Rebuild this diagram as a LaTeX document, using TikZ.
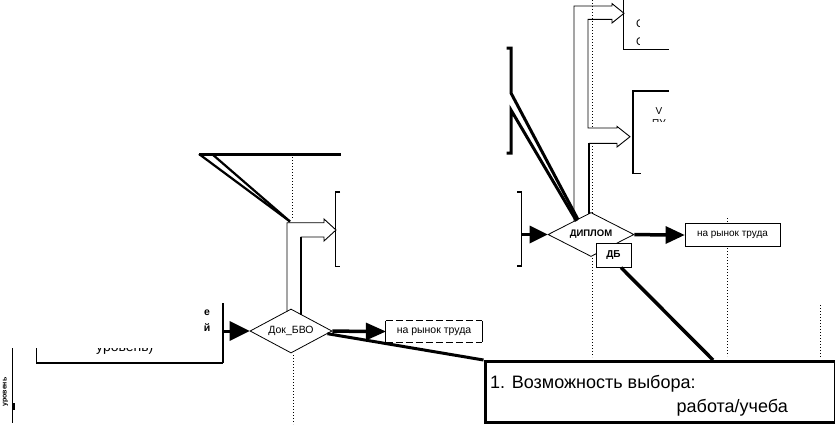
\documentclass[tikz,border=0pt]{standalone}
\usepackage{fontspec}
\setmainfont{Liberation Sans}
\usetikzlibrary{shapes.geometric,calc}
\begin{document}
\begin{tikzpicture}[x=1pt,y=-1pt,
  ln/.style={line width=0.9pt},
  mid/.style={line width=1.6pt},
  thk/.style={line width=3pt},
  dotl/.style={line width=1pt,dash pattern=on 1pt off 2pt},
  dia/.style={diamond,draw,line width=0.8pt,shape aspect=2,inner sep=0pt,fill=white},
  rbox/.style={draw,line width=0.9pt,inner sep=0pt,fill=white},
  small/.style={font=\fontsize{10}{12}\selectfont}]
\useasboundingbox (0,0) rectangle (835,424);

% ---------------- dotted lifelines ----------------
\draw[dotl] (292,157) -- (292,219);
\draw[dotl] (293,355) -- (293,424);
\draw[dotl] (592,0) -- (592,128);
\draw[dotl] (592,146) -- (592,213);
\draw[dotl] (592,258) -- (592,357);
\draw[dotl] (727,218) -- (727,223);
\draw[dotl] (727,248) -- (727,356);
\draw[dotl] (820,305) -- (820,358);

% ---------------- left part ----------------
\draw[line width=1pt] (12.7,348) -- (12.7,423);
\draw[line width=2pt] (13.5,403) -- (13.5,410);
\node[rotate=90,font=\bfseries\fontsize{7}{8}\selectfont] (lvl) at (5.5,392) {уровень};

\coordinate (lbA) at (36.7,348);
\coordinate (lbB) at (36.7,363);
\coordinate (lbC) at (222.7,363);
\coordinate (lbD) at (222.7,303);
\draw[line width=1.2pt] (lbA) -- (lbB) -- (lbC);
\draw[line width=2.2pt] (lbC) -- (lbD);
\node[font=\bfseries\fontsize{10.5}{12}\selectfont,anchor=base] (fe) at (207,315) {е};
\node[font=\bfseries\fontsize{10.5}{12}\selectfont,anchor=base] (fi) at (207,331) {й};
\begin{scope}
  \clip (60,348.6) rectangle (200,354);
  \node[font=\fontsize{14}{16}\selectfont,anchor=base west,inner sep=0pt] (frag) at (96,351) {уровень)};
\end{scope}

% Dok_BVO diamond
\node[dia,minimum width=82pt,minimum height=44pt,font=\fontsize{10.5}{12}\selectfont] (dok) at (291,331) {Док\_БВО};
\coordinate (dokin) at (223,331);
\draw[thk] (dokin) -- ($(dok.west)+(-19,0)$);
\fill ($(dok.west)+(-20,-10)$) -- (dok.west) -- ($(dok.west)+(-20,10)$) -- cycle;

% box na rynok truda 1
\node[minimum width=96pt,minimum height=21pt,inner sep=0pt,font=\fontsize{10.5}{12}\selectfont] (rt1) at (434,331.5) {на рынок труда};
\draw[ln] (rt1.north west) -- (rt1.south west);
\draw[ln] (rt1.north east) -- (rt1.south east);
\draw[ln,dash pattern=on 7pt off 3pt] (rt1.north west) -- (rt1.north east);
\draw[ln,dash pattern=on 7pt off 3pt] (rt1.south west) -- (rt1.south east);
\draw[line width=3.5pt] (dok.east) -- ($(rt1.west)+(-19,0)$);
\fill ($(rt1.west)+(-20,-9)$) -- (rt1.west) -- ($(rt1.west)+(-20,9)$) -- cycle;

% top-left thick line and diagonals
\coordinate (hl1) at (199,154);
\coordinate (hl2) at (341,154);
\coordinate (hl3) at (212,154);
\coordinate (conv1) at (290,221.5);
\draw[thk] (hl1) -- (hl2);
\draw[line width=2.2pt] (hl1) -- (conv1);
\draw[line width=2.2pt] (hl3) -- (conv1);

% hollow arrow above Dok_BVO
\draw[ln,line join=miter] (287,311.5) -- (287,222.7) -- (324,222.7) -- (324,219) -- (336,230)
   -- (324,241) -- (324,237) -- (301,237) -- (301,314.5);
\draw[line width=2pt] (301,237) -- (301,314.5);
% bracket
\coordinate (brA) at (340,192);
\coordinate (brB) at (335.7,192);
\coordinate (brC) at (335.7,266.7);
\coordinate (brD) at (340,266.7);
\draw[line width=1.2pt] (brA) -- (brB) -- (brC) -- (brD);

% ---------------- big box ----------------
\node[draw,line width=3pt,minimum width=350pt,minimum height=61pt,anchor=north west,inner sep=0pt] (big) at (483.5,360) {};
\node[font=\fontsize{18}{20}\selectfont,anchor=base west,inner sep=0pt] (t1) at (490,388) {1. Возможность выбора:};
\node[font=\fontsize{18}{20}\selectfont,anchor=base east,inner sep=0pt] (t2) at (788,412) {работа/учеба};
\coordinate (dokout) at ($(dok.east)!0.12!(dok.south)$);
\draw[thk] (dokout) -- (big.north west);

% ---------------- DIPLOM ----------------
\node[dia,minimum width=86pt,minimum height=44pt,font=\bfseries\fontsize{9.5}{12}\selectfont] (dip) at (591,234.5) {ДИПЛОМ};
\coordinate (dpA) at (517,192);
\coordinate (dpB) at (521.5,192);
\coordinate (dpC) at (521.5,266);
\coordinate (dpD) at (517,266);
\draw[line width=1.5pt] (dpA) -- (dpB) -- (dpC) -- (dpD);
\coordinate (dipin) at (521.5,234.5);
\draw[thk] (dipin) -- ($(dip.west)+(-17,0)$);
\fill ($(dip.west)+(-18,-9)$) -- (dip.west) -- ($(dip.west)+(-18,9)$) -- cycle;

\node[rbox,minimum width=95pt,minimum height=23.5pt,small] (rt2) at (732.5,235) {на рынок труда};
\draw[line width=3.5pt] (dip.east) -- ($(rt2.west)+(-18,0)$);
\fill ($(rt2.west)+(-19,-9)$) -- (rt2.west) -- ($(rt2.west)+(-19,9)$) -- cycle;

\node[rbox,minimum width=35pt,minimum height=24pt,font=\bfseries\fontsize{10}{12}\selectfont] (db) at (613.5,255.3) {ДБ};
\coordinate (dbout) at (621,267.5);
\draw[line width=3.5pt] (dbout) -- (713,360);

% top brackets with diagonals
\coordinate (ub1) at (506.5,48);
\coordinate (ub2) at (511,48);
\coordinate (ub3) at (511,93);
\coordinate (ub4) at (511,110);
\coordinate (ub5) at (511,153);
\coordinate (ub6) at (506.5,153);
\coordinate (dtl1) at (578,219.6);
\coordinate (dtl2) at (576.5,221);
\draw[thk,line join=miter] (ub1) -- (ub2) -- (ub3) -- (dtl1);
\draw[thk,line join=miter] (dtl2) -- (ub4) -- (ub5) -- (ub6);

% hollow arrows top right
\draw[ln,line join=miter] (589,143.3) -- (617,143.3) -- (617,147) -- (630,136.7) -- (617,126.4)
  -- (617,128) -- (588,128) -- (588,19.3) -- (612,19.3) -- (612,23) -- (624,13.3) -- (612,3.6)
  -- (612,6) -- (574,6) -- (574,221.7);
\draw[line width=2.6pt] (589,143.3) -- (589,214);

% top-right boxes (partly visible)
\coordinate (tb1) at (623.5,0);
\coordinate (tb2) at (623.5,49.3);
\coordinate (tb3) at (669,49.3);
\draw[line width=1.5pt] (tb1) -- (tb2) -- (tb3);
\begin{scope}
  \clip (625,0) rectangle (639.8,48);
  \node[font=\fontsize{11}{12}\selectfont,anchor=base west,inner sep=0pt] (c1) at (636,27) {С};
  \node[font=\fontsize{11}{12}\selectfont,anchor=base west,inner sep=0pt] (c2) at (636,45) {С};
\end{scope}
\coordinate (tc1) at (669,91);
\coordinate (tc2) at (633,91);
\coordinate (tc3) at (633,173.3);
\coordinate (tc4) at (641,173.3);
\draw[line width=1.5pt] (tc1) -- (tc2) -- (tc3) -- (tc4);
\begin{scope}
  \clip (634,92) rectangle (669,121.5);
  \node[small,anchor=base,inner sep=0pt] (v1) at (659,114) {V};
  \node[small,anchor=base,inner sep=0pt] (v2) at (659,126.5) {ПУ};
\end{scope}
\end{tikzpicture}
\end{document}
